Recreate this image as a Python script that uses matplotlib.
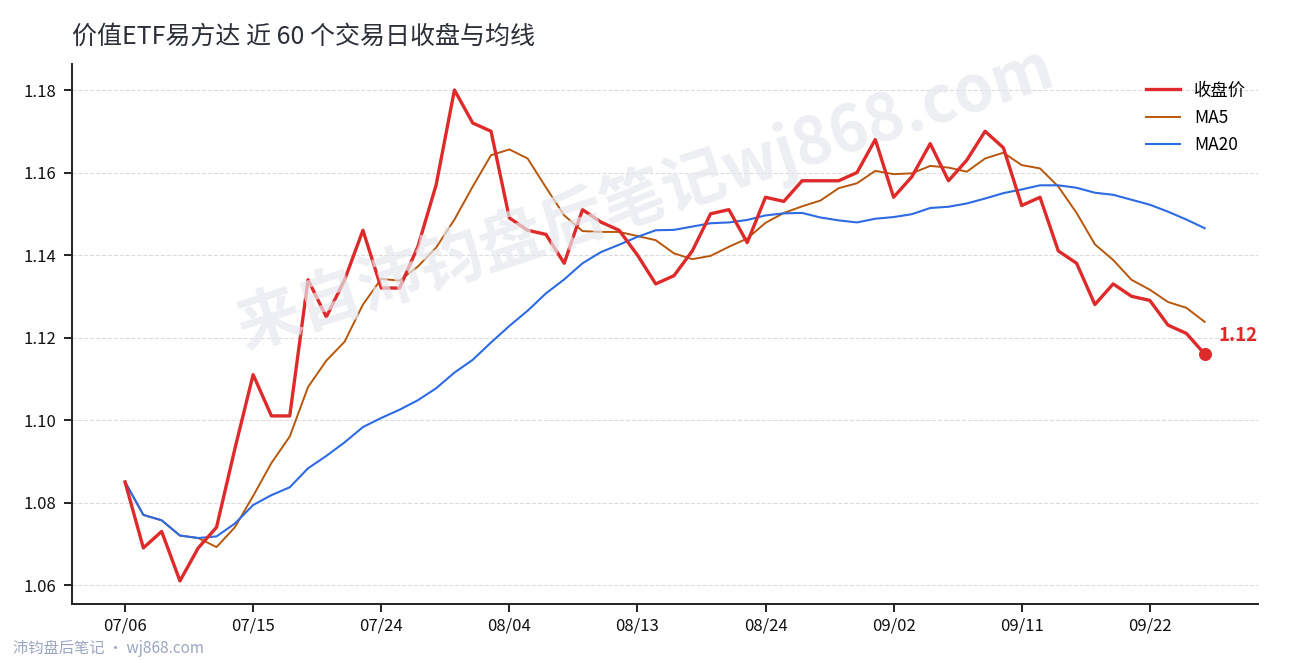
import matplotlib
matplotlib.use("Agg")
import matplotlib.pyplot as plt

plt.rcParams['font.family'] = ['Noto Sans CJK SC', 'DejaVu Sans']

dates = ["07/06", "07/07", "07/08", "07/09", "07/10", "07/13", "07/14", "07/15", "07/16", "07/17",
         "07/20", "07/21", "07/22", "07/23", "07/24", "07/27", "07/28", "07/29", "07/30", "07/31",
         "08/03", "08/04", "08/05", "08/06", "08/07", "08/10", "08/11", "08/12", "08/13", "08/14",
         "08/17", "08/18", "08/19", "08/20", "08/21", "08/24", "08/25", "08/26", "08/27", "08/28",
         "08/31", "09/01", "09/02", "09/03", "09/04", "09/07", "09/08", "09/09", "09/10", "09/11",
         "09/14", "09/15", "09/16", "09/17", "09/18", "09/21", "09/22", "09/23", "09/24", "09/25"]

close = [1.085, 1.069, 1.073, 1.061, 1.069, 1.074, 1.093, 1.111, 1.101, 1.101,
         1.134, 1.125, 1.134, 1.146, 1.132, 1.132, 1.142, 1.157, 1.180, 1.172,
         1.170, 1.149, 1.146, 1.145, 1.138, 1.151, 1.148, 1.146, 1.140, 1.133,
         1.135, 1.141, 1.150, 1.151, 1.143, 1.154, 1.153, 1.158, 1.158, 1.158,
         1.160, 1.168, 1.154, 1.159, 1.167, 1.158, 1.163, 1.170, 1.166, 1.152,
         1.154, 1.141, 1.138, 1.128, 1.133, 1.130, 1.129, 1.123, 1.121, 1.116]

ma5 = [1.0850, 1.0770, 1.0757, 1.0720, 1.0714, 1.0692, 1.0740, 1.0816, 1.0896, 1.0960,
       1.1080, 1.1144, 1.1190, 1.1280, 1.1342, 1.1338, 1.1372, 1.1418, 1.1486, 1.1566,
       1.1642, 1.1656, 1.1634, 1.1564, 1.1496, 1.1458, 1.1456, 1.1456, 1.1446, 1.1436,
       1.1404, 1.1390, 1.1398, 1.1420, 1.1440, 1.1478, 1.1502, 1.1518, 1.1532, 1.1562,
       1.1574, 1.1604, 1.1596, 1.1598, 1.1616, 1.1612, 1.1602, 1.1634, 1.1648, 1.1618,
       1.1610, 1.1566, 1.1502, 1.1426, 1.1388, 1.1340, 1.1316, 1.1286, 1.1272, 1.1238]

ma20 = [1.0850, 1.0770, 1.0757, 1.0720, 1.0714, 1.0718, 1.0749, 1.0794, 1.0818, 1.0837,
        1.0883, 1.0913, 1.0946, 1.0983, 1.1005, 1.1025, 1.1048, 1.1077, 1.1115, 1.1146,
        1.1188, 1.1228, 1.1265, 1.1307, 1.1341, 1.1380, 1.1407, 1.1425, 1.1444, 1.1460,
        1.1461, 1.1469, 1.1477, 1.1479, 1.1485, 1.1496, 1.1501, 1.1502, 1.1491, 1.1484,
        1.1479, 1.1488, 1.1492, 1.1499, 1.1514, 1.1517, 1.1525, 1.1537, 1.1550, 1.1559,
        1.1569, 1.1569, 1.1563, 1.1551, 1.1546, 1.1534, 1.1522, 1.1505, 1.1486, 1.1465]

yticks = [1.06, 1.08, 1.10, 1.12, 1.14, 1.16, 1.18]

x = list(range(len(close)))

fig = plt.figure(figsize=(12.9, 6.6), dpi=100)
ax = fig.add_axes([0.0558, 0.0848, 0.9192, 0.8182])

# watermark
fig.text(0.50, 0.70, "来自沛钧盘后笔记wj868.com", fontsize=46, fontweight='bold',
         color='#e6e8ee', alpha=0.7, rotation=18, ha='center', va='center', zorder=0)

ax.plot(x, close, color='#de2a2a', linewidth=2.4, label='收盘价', zorder=4)
ax.plot(x, ma5, color='#b8560c', linewidth=1.4, label='MA5', zorder=3)
ax.plot(x, ma20, color='#2d6be4', linewidth=1.5, label='MA20', zorder=3)

ax.scatter([x[-1]], [close[-1]], s=70, color='#de2a2a', zorder=5)
ax.annotate(f"{close[-1]:.2f}", (x[-1], close[-1]), xytext=(10, 13), textcoords='offset points',
            color='#de2a2a', fontsize=13.5, fontweight='bold', ha='left', va='center')

ax.set_xlim(-2.9, 61.9)
ax.set_ylim(1.0554, 1.1863)
ax.set_yticks(yticks)
ax.set_yticklabels([f"{v:.2f}" for v in yticks])
tick_idx = list(range(0, len(dates), 7))
ax.set_xticks(tick_idx)
ax.set_xticklabels([dates[i] for i in tick_idx])

ax.grid(axis='y', linestyle='--', color='#dcdcdc', linewidth=0.8)
ax.set_axisbelow(True)
for s in ['top', 'right']:
    ax.spines[s].set_visible(False)
for s in ['left', 'bottom']:
    ax.spines[s].set_color('#222222')
    ax.spines[s].set_linewidth(1.4)
ax.tick_params(axis='both', length=6, width=1.4, color='#222222', labelsize=12, labelcolor='#111111')
ax.tick_params(axis='y', pad=5)
ax.patch.set_alpha(0)

ax.legend(loc='upper right', frameon=False, fontsize=12.5, handlelength=2.0,
          borderaxespad=0.6, labelspacing=0.55, bbox_to_anchor=(1.005, 1.0))

fig.text(0.0558, 0.944, "价值ETF易方达 近 60 个交易日收盘与均线", fontsize=18, color='#2b2f38',
         ha='left', va='center')
fig.text(0.01, 0.018, "沛钧盘后笔记 · wj868.com", fontsize=11, color='#9aa6c0', ha='left', va='center')

fig.savefig("out.png", dpi=100)
